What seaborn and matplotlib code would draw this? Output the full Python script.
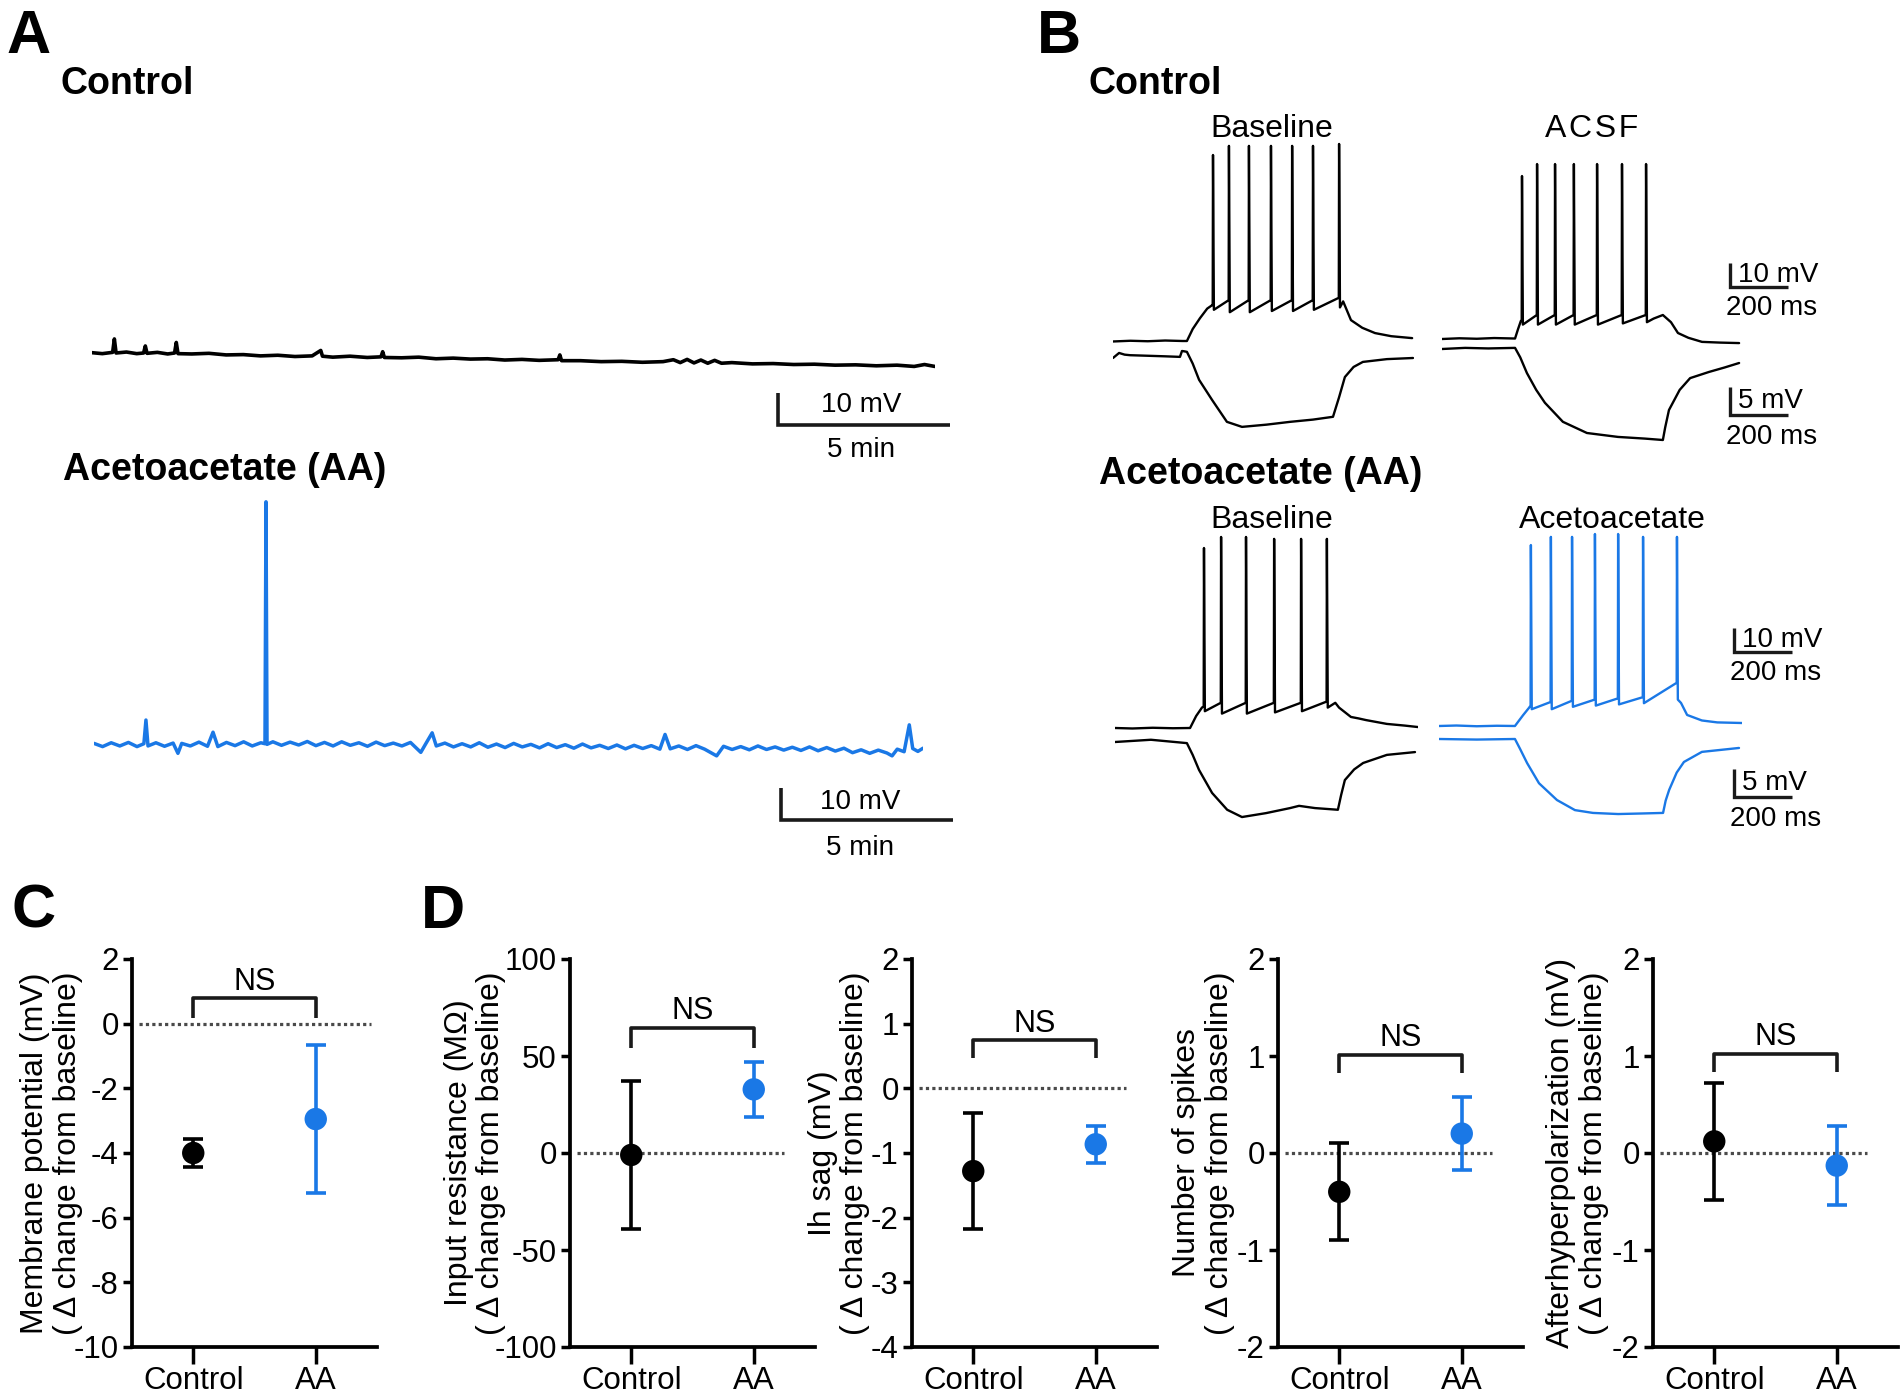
import numpy as np
import pandas as pd
import matplotlib
matplotlib.use('Agg')
import matplotlib.pyplot as plt
import seaborn as sns

W, H = 1902, 1395
BLUE = '#1a78e6'
BLACK = '#000000'

# ---------------- panel A: long recordings (min, mV) ----------------
ctrl_a_t = [0.0, 0.3, 0.6, 0.65, 0.7, 1.0, 1.3, 1.5, 1.55, 1.6, 1.9, 2.2, 2.4, 2.45, 2.5,
            2.9, 3.4, 3.9, 4.4, 4.9, 5.4, 5.9, 6.4, 6.65, 6.7, 7.0, 7.5, 8.0, 8.4, 8.45,
            8.5, 9.0, 9.5, 10.0, 10.5, 11.0, 11.5, 12.0, 12.5, 13.0, 13.55, 13.6, 13.65,
            14.2, 14.8, 15.4, 16.0, 16.6, 16.9, 17.1, 17.3, 17.5, 17.7, 17.9, 18.1, 18.3,
            18.6, 19.2, 19.8, 20.4, 21.0, 21.6, 22.2, 22.8, 23.4, 23.9, 24.2, 24.5]
ctrl_a_v = [0.1, -0.2, 0.2, 4.4, 0.0, 0.3, -0.2, 0.0, 2.2, -0.1, 0.2, -0.3, 0.0, 3.3, -0.2,
            -0.3, -0.1, -0.6, -0.5, -0.9, -0.7, -1.1, -0.9, 0.8, -1.0, -1.3, -1.0, -1.4, -1.2, 0.4,
            -1.4, -1.5, -1.3, -1.8, -1.6, -1.9, -1.8, -2.2, -2.0, -2.3, -2.1, -0.6, -2.4,
            -2.4, -2.7, -2.6, -2.9, -2.7, -2.1, -3.0, -2.0, -3.1, -2.2, -3.2, -2.3, -3.2,
            -3.0, -3.4, -3.3, -3.6, -3.5, -3.8, -3.7, -4.0, -3.8, -4.2, -3.6, -4.2]

aa_a_t = [0.00, 0.25, 0.50, 0.75, 1.00, 1.25, 1.45, 1.51, 1.57, 1.80, 2.05, 2.30, 2.44, 2.55,
          2.80, 3.05, 3.30, 3.46, 3.60, 3.85, 4.10, 4.35, 4.60, 4.85, 4.97, 5.00, 5.03, 5.20,
          5.45, 5.70, 5.95, 6.20, 6.45, 6.70, 6.95, 7.20, 7.45, 7.70, 7.95, 8.20, 8.45, 8.70,
          8.95, 9.20, 9.50, 9.65, 9.83, 9.95, 10.20, 10.45, 10.70, 10.95, 11.20, 11.45, 11.70,
          11.95, 12.20, 12.45, 12.70, 12.95, 13.20, 13.45, 13.70, 13.95, 14.20, 14.45, 14.70,
          14.95, 15.20, 15.45, 15.70, 15.95, 16.20, 16.45, 16.60, 16.75, 17.00, 17.25, 17.50,
          17.75, 18.10, 18.30, 18.55, 18.80, 19.05, 19.30, 19.55, 19.80, 20.05, 20.30, 20.55,
          20.80, 21.05, 21.30, 21.55, 21.80, 22.05, 22.30, 22.55, 22.80, 23.05, 23.20, 23.35,
          23.55, 23.70, 23.80, 23.95, 24.10]
aa_a_v = [0.5, -0.5, 0.7, -0.3, 0.8, -0.5, 0.4, 7.8, -0.3, 0.7, -0.4, 0.6, -2.6, 0.5,
          -0.3, 0.9, -0.4, 4.0, -0.5, 0.8, -0.2, 1.0, -0.3, 0.7, 0.4, 76.0, 0.2, 1.0,
          -0.1, 0.9, 0.0, 1.1, -0.2, 0.8, -0.3, 1.0, -0.1, 0.7, -0.4, 0.9, -0.2, 0.6,
          -0.3, 0.8, -2.3, 0.5, 3.8, -0.3, 0.6, -0.6, 0.4, -0.6, 0.7, -0.7, 0.3,
          -0.8, 0.5, -0.6, 0.2, -0.9, 0.4, -0.8, 0.1, -1.0, 0.3, -0.9, -0.1,
          -1.1, 0.0, -1.2, -0.1, -1.1, -0.2, -1.3, 3.3, -1.2, -0.3, -1.4, -0.2,
          -1.3, -3.4, -0.4, -1.4, -0.5, -1.5, -0.3, -1.4, -0.6, -1.6, -0.7, -1.7,
          -0.6, -1.8, -0.8, -1.9, -1.0, -2.4, -1.5, -2.6, -1.6, -2.5, -3.4, -1.3,
          -2.1, 6.3, -1.1, -2.0, -1.0]

# ---------------- panel B: step responses (ms, mV) ----------------
# control cell, baseline
cb_pre_t = [0, 60, 120, 180, 240, 255, 275, 300, 325, 343]
cb_pre_v = [-65.2, -64.9, -65.1, -64.8, -65.0, -65.0, -60.0, -55.5, -51.5, -50.0]
cb_spk_t = [345, 400, 469, 545, 618, 690, 780]
cb_spk_peak = [12.5, 16.3, 16.3, 16.3, 16.3, 16.3, 17.1]
cb_spk_thr = [-50, -48, -48, -48, -48, -48, -47]
cb_spk_ahp = [-52, -53, -53, -52.5, -52.5, -52, -51]
cb_post_t = [794, 821, 860, 904, 960, 1032]
cb_post_v = [-48.5, -56.3, -59.5, -61.7, -63.0, -63.8]
cb_hyp_t = [0, 21, 40, 59, 120, 180, 231, 238, 245, 255, 275, 297, 342, 393, 445, 530, 611,
            690, 759, 780, 800, 830, 862, 945, 1035]
cb_hyp_v = [-70.0, -69.1, -69.4, -69.5, -69.6, -69.7, -69.8, -68.75, -68.8, -68.9, -71.0,
            -73.9, -77.5, -81.4, -82.3, -81.9, -81.4, -81.0, -80.5, -77.0, -73.4, -71.6,
            -70.7, -70.2, -70.0]

# control cell, ACSF
ca_pre_t = [0, 60, 120, 180, 252, 262, 272]
ca_pre_v = [-65.0, -64.7, -64.9, -64.6, -64.8, -61.0, -57.5]
ca_spk_t = [276, 328, 390, 455, 535, 621, 704]
ca_spk_peak = [2.9, 7.9, 7.9, 7.9, 7.9, 7.9, 7.9]
ca_spk_thr = [-57, -55, -55, -55, -55, -55, -55]
ca_spk_ahp = [-59, -59, -59, -59, -59, -58.5, -58]
ca_post_t = [730, 762, 790, 814, 850, 897, 960, 1025]
ca_post_v = [-56.5, -55.0, -58.0, -62.5, -64.5, -66.2, -66.5, -66.7]
ca_hyp_t = [0, 80, 160, 252, 270, 293, 325, 355, 417, 500, 607, 700, 762, 770, 783, 820,
            856, 921, 975, 1025]
ca_hyp_v = [-70.0, -69.8, -69.9, -69.8, -71.5, -74.3, -77.3, -79.6, -83.0, -85.0, -85.7,
            -86.0, -86.25, -84.0, -80.9, -77.3, -75.2, -74.1, -73.3, -72.5]

# AA cell, baseline
ab_pre_t = [0, 60, 130, 200, 259, 280, 300]
ab_pre_v = [-65.0, -65.2, -64.9, -65.1, -65.0, -60.0, -56.5]
ab_spk_t = [307, 366, 452, 549, 642, 731]
ab_spk_peak = [10.0, 14.6, 14.6, 13.8, 13.8, 13.8]
ab_spk_thr = [-56, -54.5, -54.5, -54.5, -54.5, -54]
ab_spk_ahp = [-58, -59, -59, -58.5, -58, -56.5]
ab_post_t = [760, 773, 814, 840, 866, 938, 1000, 1045]
ab_post_v = [-54.5, -56.5, -60.4, -61.0, -61.7, -63.3, -64.0, -64.6]
ab_hyp_t = [0, 124, 248, 268, 290, 335, 387, 438, 521, 604, 635, 690, 769, 780, 793, 825,
            856, 938, 1035]
ab_hyp_v = [-70.0, -69.6, -70.2, -72.3, -75.0, -79.1, -82.1, -83.4, -82.7, -81.8, -81.4,
            -81.8, -82.1, -79.5, -76.8, -74.9, -73.75, -72.3, -71.8]

# AA cell, acetoacetate
aa_pre_t = [0, 60, 130, 200, 262, 290, 310]
aa_pre_v = [-65.0, -64.8, -65.1, -64.9, -65.0, -60.5, -57.5]
aa_spk_t = [317, 386, 459, 538, 618, 704, 821]
aa_spk_peak = [10.4, 13.8, 13.8, 15.0, 15.0, 13.8, 13.8]
aa_spk_thr = [-56.5, -55, -54.5, -54, -53.5, -53, -47]
aa_spk_ahp = [-58, -58, -57, -56.5, -56, -55.5, -54]
aa_post_t = [835, 856, 907, 960, 1045]
aa_post_v = [-55.4, -60.4, -62.7, -63.5, -63.75]
aa_hyp_t = [0, 130, 262, 280, 304, 345, 407, 469, 531, 618, 700, 773, 782, 794, 820, 845,
            907, 1035]
aa_hyp_v = [-70.0, -70.1, -70.0, -71.8, -74.3, -77.9, -80.9, -82.7, -83.2, -83.4, -83.3,
            -83.2, -81.0, -79.1, -76.0, -74.1, -72.3, -71.6]

# ---------------- panels C / D: mean +/- SEM change from baseline ----------------
groups = ['Control', 'AA']
vm_mean, vm_sem = [-4.0, -2.95], [0.42, 2.3]
rin_mean, rin_sem = [-1.0, 32.8], [38.0, 14.2]
sag_mean, sag_sem = [-1.28, -0.865], [0.9, 0.285]
spk_mean, spk_sem = [-0.40, 0.20], [0.50, 0.38]
ahp_mean, ahp_sem = [0.12, -0.13], [0.60, 0.41]

sns.set_theme(style='white')
plt.rcParams['font.family'] = ['Liberation Sans', 'DejaVu Sans']
plt.rcParams['axes.unicode_minus'] = False
for k in ['text.color', 'axes.labelcolor', 'xtick.color', 'ytick.color', 'axes.edgecolor']:
    plt.rcParams[k] = 'black'

fig = plt.figure(figsize=(W / 100, H / 100), dpi=100)


def px_axes(left, top, right, bottom):
    return fig.add_axes([left / W, 1 - bottom / H, (right - left) / W, (bottom - top) / H])


def trace_axes(x0, y0, tmax, vbase, vlo, vhi, px_t, px_v):
    # (x0, y0) is the pixel where t = 0, v = vbase
    ax = px_axes(x0, y0 - (vhi - vbase) * px_v, x0 + tmax * px_t, y0 + (vbase - vlo) * px_v)
    ax.lims = (tmax, vlo, vhi)
    return ax


def draw(ax, t, v, color, lw):
    df = pd.DataFrame({'t': t, 'v': v})
    sns.lineplot(data=df, x='t', y='v', ax=ax, color=color, lw=lw, sort=False, estimator=None)
    tmax, vlo, vhi = ax.lims
    ax.set_xlim(0, tmax)
    ax.set_ylim(vlo, vhi)
    ax.set_axis_off()


def spike_trace(pre_t, pre_v, spk_t, peak, thr, ahp, post_t, post_v):
    t, v = list(pre_t), list(pre_v)
    for ts, vp, vth, va in zip(spk_t, peak, thr, ahp):
        t += [ts - 1, ts, ts + 3]
        v += [vth, vp, va]
    return t + list(post_t), v + list(post_v)


def scale_bar(ax, x, y, dx, dy, lw=2.4):
    ax.plot([x, x, x + dx], [y + dy, y, y], color='k', lw=lw, clip_on=False,
            solid_capstyle='butt', solid_joinstyle='miter')


def ftext(x, y, s, **kw):
    fig.text(x / W, 1 - y / H, s, **kw)


# ---- A ----
MIN_PX, AMV_PX = 34.4, 3.2
ax = trace_axes(92, 353, 24.5, 0, -35, 10, MIN_PX, AMV_PX)
draw(ax, ctrl_a_t, ctrl_a_v, BLACK, 2.6)
scale_bar(ax, 19.94, -22.5, 5, 10, 2.6)
ax.text(22.35, -16.3, '10 mV', ha='center', va='center', fontsize=20)
ax.text(22.35, -30.3, '5 min', ha='center', va='center', fontsize=20)

ax = trace_axes(94, 745, 24.1, 0, -35, 80, MIN_PX, AMV_PX)
draw(ax, aa_a_t, aa_a_v, BLUE, 2.5)
scale_bar(ax, 19.97, -23.4, 5, 10, 2.6)
ax.text(22.27, -17.8, '10 mV', ha='center', va='center', fontsize=20)
ax.text(22.27, -32.2, '5 min', ha='center', va='center', fontsize=20)

# ---- B ----
MS_PX, TOP_PX, BOT_PX = 1 / 3.45, 2.4, 5.6
cells = [
    (1113, 341, 358, 1040, cb_pre_t, cb_pre_v, cb_spk_t, cb_spk_peak, cb_spk_thr, cb_spk_ahp,
     cb_post_t, cb_post_v, cb_hyp_t, cb_hyp_v, BLACK),
    (1442, 339, 349, 1030, ca_pre_t, ca_pre_v, ca_spk_t, ca_spk_peak, ca_spk_thr, ca_spk_ahp,
     ca_post_t, ca_post_v, ca_hyp_t, ca_hyp_v, BLACK),
    (1115, 728, 742, 1045, ab_pre_t, ab_pre_v, ab_spk_t, ab_spk_peak, ab_spk_thr, ab_spk_ahp,
     ab_post_t, ab_post_v, ab_hyp_t, ab_hyp_v, BLACK),
    (1439, 726, 739, 1045, aa_pre_t, aa_pre_v, aa_spk_t, aa_spk_peak, aa_spk_thr, aa_spk_ahp,
     aa_post_t, aa_post_v, aa_hyp_t, aa_hyp_v, BLUE),
]
trace_axs = []
for (x0, ytop, ybot, tmax, pt, pv, st, sp, sth, sa, qt, qv, ht, hv, col) in cells:
    axt = trace_axes(x0, ytop, tmax, -65, -70, 20, MS_PX, TOP_PX)
    t, v = spike_trace(pt, pv, st, sp, sth, sa, qt, qv)
    draw(axt, t, v, col, 1.7)
    axb = trace_axes(x0, ybot, tmax, -70, -90, -65, MS_PX, BOT_PX)
    draw(axb, ht, hv, col, 1.7)
    trace_axs.append((axt, axb))

# scale bars for B, drawn in the right-hand cell of each row
for (axt, axb), x_bar, vt, vb in [(trace_axs[1], 994, -43.3, -81.8),
                                  (trace_axs[3], 1018, -34.2, -80.4)]:
    scale_bar(axt, x_bar, vt, 200, 10, 2.4)
    axt.text(x_bar + 28, vt + 5, '10 mV', ha='left', va='center', fontsize=20)
    axt.text(x_bar - 15, vt - 8.8, '200 ms', ha='left', va='center', fontsize=20)
    scale_bar(axb, x_bar, vb, 200, 5, 2.4)
    axb.text(x_bar + 28, vb + 2.5, '5 mV', ha='left', va='center', fontsize=20)
    axb.text(x_bar - 15, vb - 3.9, '200 ms', ha='left', va='center', fontsize=20)

# ---- titles and panel letters ----
for x, y, s in [(6, 53, 'A'), (1037, 53, 'B'), (12, 928, 'C'), (421, 928, 'D')]:
    ftext(x, y, s, fontsize=44, fontweight='bold', va='baseline')
for x, y, s in [(61, 94, 'Control'), (63, 480, 'Acetoacetate (AA)'),
                (1089, 94, 'Control'), (1099, 484, 'Acetoacetate (AA)')]:
    ftext(x, y, s, fontsize=27, fontweight='bold', va='baseline')
for x, y, s in [(1272, 137, 'Baseline'), (1592, 137, 'A\u200aC\u200aS\u200aF'),
                (1272, 528, 'Baseline'), (1612, 528, 'Acetoacetate')]:
    ftext(x, y, s, fontsize=23, ha='center', va='baseline')

# ---- C / D ----
panels = [
    (132, vm_mean, vm_sem, (-10, 2), [-10, -8, -6, -4, -2, 0, 2],
     'Membrane potential (mV)', -0.2, 0.79, 0.17, 1.29, 0.975),
    (570, rin_mean, rin_sem, (-100, 100), [-100, -50, 0, 50, 100],
     'Input resistance (M\u03a9)', -0.26, 64.6, 54, 73, 0.875),
    (912, sag_mean, sag_sem, (-4, 2), [-4, -3, -2, -1, 0, 1, 2],
     'Ih sag (mV)', -0.17, 0.75, 0.47, 1.0, 0.875),
    (1278, spk_mean, spk_sem, (-2, 2), [-2, -1, 0, 1, 2],
     'Number of spikes', -0.175, 1.01, 0.82, 1.19, 0.875),
    (1653, ahp_mean, ahp_sem, (-2, 2), [-2, -1, 0, 1, 2],
     'Afterhyperpolarization (mV)', -0.18, 1.02, 0.83, 1.2, 0.875),
]
pos = np.arange(len(groups))
for left, means, sems, ylim, yticks, lab, lx, ns_top, ns_leg, ns_txt, zend in panels:
    ax = px_axes(left, 959, left + 245, 1347)
    df = pd.DataFrame({'pos': pos, 'mean': means, 'group': groups})
    for p, m, s, c in zip(pos, means, sems, [BLACK, BLUE]):
        ax.errorbar(p, m, yerr=s, color=c, lw=2.6, capsize=7.5, capthick=2.6, zorder=3)
    sns.scatterplot(data=df, x='pos', y='mean', hue='group', palette=[BLACK, BLUE],
                    s=260, edgecolor='none', legend=False, ax=ax, zorder=4)
    ax.axhline(0, xmin=0.03, xmax=zend, color='#4a4a4a', lw=2.3, ls=(0, (1, 1)), zorder=1)
    ax.plot([pos[0], pos[0], pos[-1], pos[-1]], [ns_leg, ns_top, ns_top, ns_leg],
            color='k', lw=2.6, solid_capstyle='butt', clip_on=False)
    ax.text(pos.mean(), ns_txt, 'NS', ha='center', va='center', fontsize=22)
    ax.set_xlim(-0.5, 1.5)
    ax.set_ylim(*ylim)
    ax.set_yticks(yticks)
    ax.set_xticks(pos, groups)
    ax.set_xlabel('')
    ax.set_ylabel(lab + '\n( \u0394 change from baseline)', fontsize=23,
                  family=['Liberation Sans', 'DejaVu Sans'], linespacing=1.12)
    ax.yaxis.set_label_coords(lx, 0.5)
    sns.despine(ax=ax)
    for sp in ['left', 'bottom']:
        ax.spines[sp].set_linewidth(2.7)
    ax.tick_params(axis='y', left=True, length=6.5, width=2.5, labelsize=22.5, pad=3)
    ax.tick_params(axis='x', bottom=True, length=12, width=2.5, labelsize=22.5, pad=2)

fig.savefig('out.png', dpi=100)
